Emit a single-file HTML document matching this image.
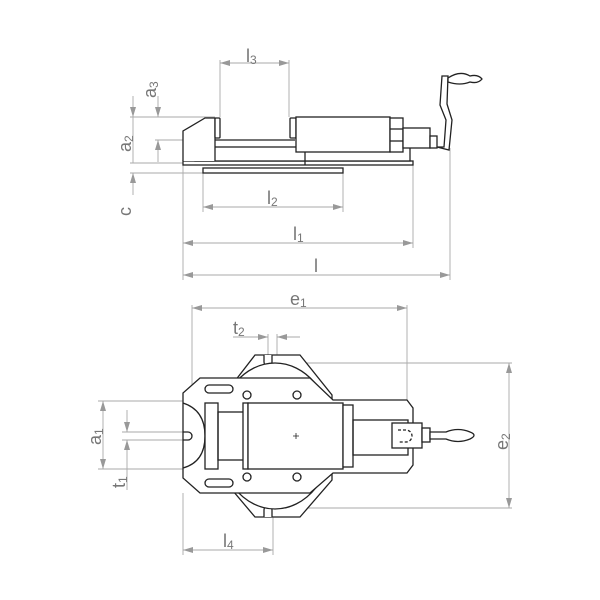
<!DOCTYPE html>
<html><head><style>html,body{margin:0;background:#fff}svg{display:block}text{font-family:"Liberation Sans",sans-serif;fill:#777}</style></head><body>
<svg width="600" height="600" viewBox="0 0 600 600" xmlns="http://www.w3.org/2000/svg">
<defs><marker id="a" viewBox="0 0 10 6" refX="10" refY="3" markerWidth="12" markerHeight="6" markerUnits="userSpaceOnUse" orient="auto-start-reverse"><path d="M0,0 L10,3 L0,6z" fill="#999"/></marker></defs>
<g stroke="#aaa" stroke-width="0.9" fill="none">
<line x1="220" y1="60" x2="220" y2="117"/><line x1="289" y1="60" x2="289" y2="117"/>
<line x1="220" y1="63" x2="289" y2="63" marker-start="url(#a)" marker-end="url(#a)"/>
<line x1="130" y1="117" x2="215" y2="117"/><line x1="155" y1="140" x2="215" y2="140"/>
<line x1="130" y1="163" x2="183" y2="163"/><line x1="130" y1="173" x2="203" y2="173"/>
<line x1="133" y1="96" x2="133" y2="117" marker-end="url(#a)"/><line x1="133" y1="117" x2="133" y2="163"/>
<line x1="158" y1="96" x2="158" y2="117" marker-end="url(#a)"/><line x1="158" y1="162" x2="158" y2="140" marker-end="url(#a)"/>
<line x1="133" y1="195" x2="133" y2="173" marker-end="url(#a)"/>
<line x1="183" y1="165" x2="183" y2="280"/><line x1="203" y1="173" x2="203" y2="212"/><line x1="343" y1="173" x2="343" y2="212"/>
<line x1="413" y1="165" x2="413" y2="248"/><line x1="450" y1="148" x2="450" y2="280"/>
<line x1="203" y1="207" x2="343" y2="207" marker-start="url(#a)" marker-end="url(#a)"/>
<line x1="183" y1="243" x2="413" y2="243" marker-start="url(#a)" marker-end="url(#a)"/>
<line x1="183" y1="275" x2="450" y2="275" marker-start="url(#a)" marker-end="url(#a)"/>
<line x1="192" y1="305" x2="192" y2="400"/><line x1="407" y1="305" x2="407" y2="400"/>
<line x1="192" y1="308" x2="407" y2="308" marker-start="url(#a)" marker-end="url(#a)"/>
<line x1="268" y1="334" x2="268" y2="356"/><line x1="277" y1="334" x2="277" y2="356"/>
<line x1="233" y1="337" x2="268" y2="337" marker-end="url(#a)"/><line x1="300" y1="337" x2="277" y2="337" marker-end="url(#a)"/>
<line x1="300" y1="363" x2="512" y2="363"/><line x1="300" y1="508" x2="512" y2="508"/>
<line x1="509" y1="363" x2="509" y2="508" marker-start="url(#a)" marker-end="url(#a)"/>
<line x1="98" y1="401" x2="183" y2="401"/><line x1="98" y1="469" x2="183" y2="469"/>
<line x1="103" y1="401" x2="103" y2="469" marker-start="url(#a)" marker-end="url(#a)"/>
<line x1="122" y1="432" x2="183" y2="432"/><line x1="122" y1="440" x2="183" y2="440"/>
<line x1="127" y1="410" x2="127" y2="432" marker-end="url(#a)"/><line x1="127" y1="462" x2="127" y2="440" marker-end="url(#a)"/><line x1="127" y1="462" x2="127" y2="490"/>
<line x1="183" y1="493" x2="183" y2="555"/><line x1="273" y1="510" x2="273" y2="555"/>
<line x1="183" y1="550" x2="273" y2="550" marker-start="url(#a)" marker-end="url(#a)"/>
</g>
<g font-size="18">
<text x="246" y="62">l<tspan font-size="12" dy="2">3</tspan></text>
<text x="267" y="204">l<tspan font-size="12" dy="2">2</tspan></text>
<text x="293" y="240">l<tspan font-size="12" dy="2">1</tspan></text>
<text x="314" y="272">l</text>
<text x="290" y="305">e<tspan font-size="12" dy="2">1</tspan></text>
<text x="233" y="334">t<tspan font-size="12" dy="2">2</tspan></text>
<text x="223" y="547">l<tspan font-size="12" dy="2">4</tspan></text>
<text transform="translate(156,98) rotate(-90)">a<tspan font-size="12" dy="2">3</tspan></text>
<text transform="translate(131,152) rotate(-90)">a<tspan font-size="12" dy="2">2</tspan></text>
<text transform="translate(131,216) rotate(-90)">c</text>
<text transform="translate(101,445) rotate(-90)">a<tspan font-size="12" dy="2">1</tspan></text>
<text transform="translate(125,488) rotate(-90)">t<tspan font-size="12" dy="2">1</tspan></text>
<text transform="translate(508,450) rotate(-90)">e<tspan font-size="12" dy="2">2</tspan></text>
</g>
<g stroke="#222" stroke-width="1.3" fill="#fff">
<rect x="203" y="168" width="140" height="5"/>
<rect x="183" y="161" width="230" height="4"/>
<rect x="195" y="147" width="215" height="14"/>
<line x1="215" y1="140" x2="295" y2="140"/>
<path d="M183,161 V131 L205,118 H215 V161"/>
<rect x="215" y="118" width="5" height="20" rx="1"/>
<rect x="290" y="118" width="6" height="20" rx="1"/>
<rect x="296" y="117" width="94" height="35"/>
<rect x="390" y="118" width="13" height="34"/>
<line x1="390" y1="129" x2="403" y2="129"/><line x1="390" y1="141" x2="403" y2="141"/>
<rect x="403" y="128" width="27" height="20"/>
<rect x="430" y="136" width="7" height="12"/>
<path d="M437,147 L444,147 L446,120 L440,105 L442,76 L448,76 L447,104 L452,120 L449,150 Z"/>
<path d="M448,78 Q460,70 470,76 Q478,74 482,79 Q478,84 470,82 Q460,86 448,82Z"/>
<line x1="305" y1="152" x2="305" y2="165"/>
<path d="M255,355 H300 L332,395 V480 L300,517 H255 L228,485 V390 Z"/>
<path d="M264,355 V362 A4,4 0 0 0 272,362 V355" /><path d="M264,517 V510 A4,4 0 0 1 272,510 V517"/>
<ellipse cx="275" cy="436" rx="58" ry="73"/>
<path d="M200,378 H310 L333,400 H407 L413,408 V465 L407,473 H333 L310,493 H200 L183,478 V393 Z"/>
<path d="M183,403 Q205,410 205,436 Q205,462 183,468" fill="none"/>
<path d="M183,432 H188 A4,4 0 0 1 188,440 H183" fill="none"/>
<rect x="205" y="403" width="13" height="66"/>
<rect x="218" y="412" width="27" height="48" fill="none"/>
<rect x="243" y="403" width="5" height="66"/>
<rect x="248" y="403" width="95" height="66"/>
<rect x="343" y="405" width="10" height="62"/>
<rect x="353" y="420" width="55" height="35" fill="none"/>
<rect x="392" y="423" width="30" height="25"/>
<path d="M398,430 h8 a6,6 0 0 1 0,12 h-8" stroke-dasharray="3,2" fill="none"/>
<rect x="422" y="428" width="8" height="14"/>
<path d="M430,432 H446 Q458,427 470,432 Q478,435 470,439 Q458,444 446,439 H430Z"/>
<rect x="205" y="385" width="28" height="8" rx="4"/><rect x="205" y="479" width="28" height="8" rx="4"/>
<circle cx="247" cy="395" r="4"/><circle cx="297" cy="395" r="4"/><circle cx="247" cy="477" r="4"/><circle cx="297" cy="477" r="4"/>
<path d="M293,436 h6 M296,433 v6" fill="none" stroke-width="0.8"/>
</g>
</svg>
</body></html>
